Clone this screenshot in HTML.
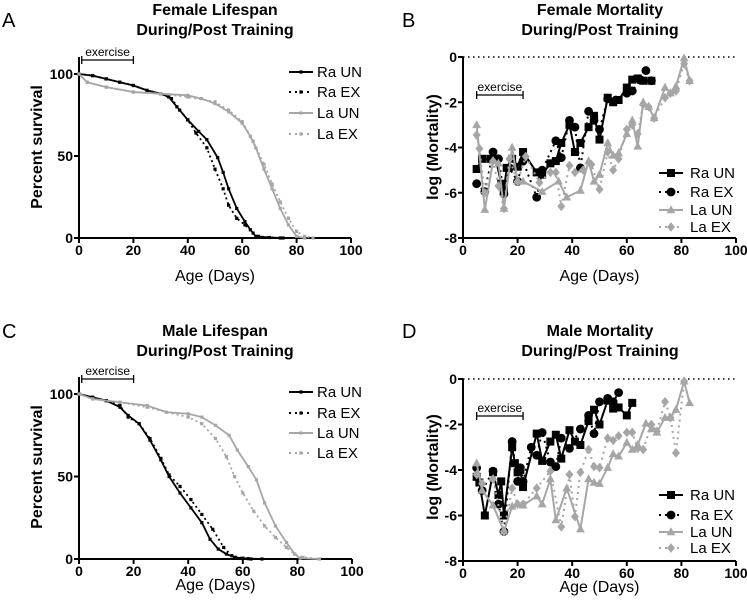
<!DOCTYPE html>
<html><head><meta charset="utf-8"><style>
html,body{margin:0;padding:0;background:#fff}
svg{display:block;font-family:"Liberation Sans",Arial,sans-serif}
</style></head><body>
<svg id="fig" width="747" height="604" viewBox="0 0 747 604" xmlns="http://www.w3.org/2000/svg"></svg>
<script>
// ---------- DATA ----------
const seriesNames = ["Ra UN","Ra EX","La UN","La EX"];
const survTicksX = [0,20,40,60,80,100];
const survTicksY = [0,50,100];
const mortTicksY = [0,-2,-4,-6,-8];
// Female survival
const fRaUN = [[0,100],[5,99],[10,97],[15,95],[20,93],[25,90],[30,88],[33,86],[36,80],[40,72],[44,65],[47,60],[51,49],[53,40],[55,30],[58,18],[61,10],[63,5],[65,1],[70,0.3],[75,0]];
const fRaEX = [[0,100],[5,99],[10,97],[15,95],[20,93],[25,90],[30,88],[34,85],[37,78],[40,72],[43,64],[47,55],[50,42],[53,30],[55,20],[58,12],[61,8],[64,3],[66,1],[74,0]];
const fLaUN = [[0,100],[3,95],[10,92],[20,89],[30,88],[40,87],[45,85],[50,82],[55,77],[60,70],[63,62],[65,55],[68,42],[71,30],[74,18],[77,8],[80,1],[83,0]];
const fLaEX = [[0,100],[3,95],[10,92],[20,89],[30,88],[40,86],[50,83],[55,78],[60,71],[64,59],[68,45],[71,33],[74,22],[77,12],[80,4],[83,1],[86,0]];
// Male survival
const mRaUN = [[0,100],[5,98],[10,96],[15,92],[18,87],[22,82],[26,72],[30,60],[33,50],[37,40],[41,31],[45,22],[48,12],[51,6],[54,3],[57,1],[62,0.2],[67,0]];
const mRaEX = [[0,100],[5,98],[10,96],[15,93],[18,86],[22,82],[26,73],[30,61],[33,51],[37,44],[41,36],[45,27],[49,18],[53,7],[56,2],[60,0.5],[63,0]];
const mLaUN = [[0,100],[5,97],[15,95],[25,93],[32,89],[40,88],[45,86],[50,81],[55,75],[58,66],[62,56],[65,48],[68,34],[72,20],[76,10],[79,3],[81,0.5],[88,0]];
const mLaEX = [[0,100],[5,97],[15,95],[25,92],[32,89],[40,86],[45,82],[50,73],[54,62],[57,50],[60,40],[64,29],[68,20],[72,13],[76,7],[79,3],[82,1],[88,0]];
// Female mortality
const fmRaUN = [[5,-4.95],[7,-4.5],[10,-4.5],[12,-4.5],[14,-5.6],[15,-5.9],[16,-4.9],[18,-4.5],[20,-4.85],[22,-4.2],[27,-5.1],[29,-5.2],[32,-4.7],[34,-4.6],[36,-3.8],[39,-3.0],[41,-4.2],[43,-3.8],[46,-3.1],[48,-2.6],[50,-3.65],[53,-1.8],[55,-2.0],[57,-1.9],[60,-1.35],[62,-1.0],[64,-0.95],[66,-1.05],[69,-1.05]];
const fmRaEX = [[5,-5.6],[8,-5.95],[11,-4.2],[13,-4.5],[15,-6.05],[17,-4.9],[20,-5.5],[22,-4.6],[27,-6.2],[29,-5.0],[34,-3.7],[36,-4.45],[39,-2.8],[41,-3.1],[43,-4.9],[46,-2.4],[48,-2.8],[50,-3.2],[53,-1.85],[56,-1.9],[60,-1.6],[62,-1.5],[65,-1.0],[67,-0.6],[69,-1.05]];
const fmLaUN = [[5,-3.0],[8,-6.75],[11,-4.6],[13,-4.7],[15,-6.7],[18,-4.0],[20,-5.5],[22,-5.5],[29,-5.95],[35,-5.5],[38,-6.2],[43,-5.9],[46,-4.6],[48,-5.5],[50,-5.2],[53,-3.8],[55,-4.35],[57,-4.25],[60,-3.4],[62,-2.8],[64,-3.95],[66,-2.0],[68,-2.2],[70,-2.7],[74,-1.35],[76,-1.6],[78,-1.3],[81,-0.05],[83,-1.05]];
const fmLaEX = [[5,-3.45],[6,-4.05],[8,-6.0],[11,-4.6],[13,-5.7],[15,-6.7],[17,-4.5],[20,-5.5],[23,-4.4],[28,-5.55],[32,-5.1],[34,-5.1],[36,-6.6],[39,-4.8],[41,-5.1],[44,-5.0],[47,-4.75],[50,-5.85],[53,-4.2],[55,-5.0],[57,-4.5],[60,-3.2],[62,-3.0],[64,-3.4],[66,-2.1],[68,-2.2],[70,-2.7],[74,-1.8],[76,-1.6],[78,-1.5],[81,-0.3],[83,-1.05]];
// Male mortality
const mmRaUN = [[5,-4.3],[6,-4.55],[8,-6.0],[11,-4.1],[13,-5.1],[14,-4.5],[15,-6.0],[18,-3.0],[19,-3.7],[20,-4.1],[21,-4.0],[22,-4.75],[27,-2.4],[29,-3.6],[32,-2.75],[34,-2.45],[36,-3.5],[39,-2.25],[41,-2.75],[43,-2.9],[46,-1.85],[48,-1.35],[50,-2.0],[53,-0.95],[55,-1.3],[57,-1.25],[60,-1.6],[62,-1.05]];
const mmRaEX = [[5,-3.9],[7,-4.9],[11,-4.05],[13,-5.5],[15,-6.7],[18,-2.75],[20,-4.5],[21,-3.9],[22,-4.5],[25,-3.0],[27,-3.35],[29,-2.35],[32,-3.65],[34,-3.85],[36,-2.6],[39,-3.05],[43,-2.2],[46,-1.6],[48,-2.4],[50,-1.0],[53,-0.85],[55,-1.0],[57,-0.6]];
const mmLaUN = [[5,-3.7],[7,-4.9],[11,-5.55],[15,-6.7],[18,-5.6],[20,-5.5],[22,-5.55],[27,-5.15],[29,-5.5],[32,-4.4],[34,-6.2],[38,-4.8],[43,-6.6],[46,-4.4],[48,-4.55],[50,-4.6],[53,-3.9],[55,-3.3],[57,-3.4],[60,-2.8],[62,-3.1],[64,-2.9],[67,-1.95],[69,-2.2],[71,-2.35],[74,-1.7],[76,-1.7],[78,-1.35],[81,-0.1],[83,-1.05]];
const mmLaEX = [[5,-4.2],[7,-4.6],[11,-4.4],[15,-6.7],[18,-4.8],[20,-5.5],[22,-5.5],[27,-4.8],[32,-4.05],[36,-6.5],[39,-4.2],[41,-6.05],[43,-4.1],[46,-3.1],[48,-3.85],[50,-3.9],[53,-2.6],[55,-2.7],[57,-2.5],[60,-2.35],[62,-2.35],[64,-3.05],[66,-3.1],[69,-2.0],[71,-2.3],[74,-1.0],[76,-1.7],[78,-3.25],[81,-0.1]];
const exerciseDays = [1,20];
const exerciseDaysMort = [5,22];

// ---------- DRAW ----------
const NS="http://www.w3.org/2000/svg";
const svg=document.getElementById('fig');
function el(tag,attrs,parent,txt){const e=document.createElementNS(NS,tag);for(const k in attrs)e.setAttribute(k,attrs[k]);if(txt!==undefined)e.textContent=txt;(parent||svg).appendChild(e);return e;}
const BLACK="#000", GREY="#a6a6a6";
const styles=[{c:BLACK,dash:null,m:"square"},{c:BLACK,dash:"2,4",m:"circle"},{c:GREY,dash:null,m:"triangle"},{c:GREY,dash:"2,4",m:"diamond"}];

function marker(g,type,x,y,s,c){
  let e;
  if(type==="square"){e=el('rect',{x:x-s,y:y-s,width:2*s,height:2*s,fill:c},g);}
  else if(type==="circle"){e=el('circle',{cx:x,cy:y,r:s*1.1,fill:c},g);}
  else if(type==="triangle"){e=el('polygon',{points:`${x},${y-s*1.2} ${x-s*1.1},${y+s*0.8} ${x+s*1.1},${y+s*0.8}`,fill:c},g);}
  else {e=el('polygon',{points:`${x},${y-s*1.2} ${x+s},${y} ${x},${y+s*1.2} ${x-s},${y}`,fill:c},g);}
  
  
}

function panel(o){
  const g=el('g',{},svg);
  
  
  const sx=v=>o.x0+(v-0)/100*(o.x1-o.x0);
  const sy=v=>o.yb+(v-o.ymin)/(o.ymax-o.ymin)*(o.yt-o.yb);
  const L=el('text',{x:o.lx,y:o.ly,'font-size':20,fill:'#000'},g,o.letter);
  
  o.title.forEach((t,i)=>{const T=el('text',{x:o.tx,y:o.ty+i*20,'font-size':16,'font-weight':'bold','text-anchor':'middle'},g,t);
    });
  if(o.mort){const z=el('line',{x1:sx(0),x2:sx(100),y1:sy(0),y2:sy(0),stroke:'#000','stroke-width':1.5,'stroke-dasharray':'1.5,3.5'},g);
    }
  const xa=el('line',{x1:o.x0,x2:o.x1,y1:o.yb,y2:o.yb,stroke:'#000','stroke-width':2},g);
  
  const ya=el('line',{x1:o.x0,x2:o.x0,y1:o.yb,y2:o.yaxTop,stroke:'#000','stroke-width':2},g);
  
  survTicksX.forEach(v=>{el('line',{x1:sx(v),x2:sx(v),y1:o.yb,y2:o.yb+5,stroke:'#000','stroke-width':2},g);
    const t=el('text',{x:sx(v),y:o.yb+17,'font-size':14,'font-weight':'bold','text-anchor':'middle'},g,String(v));
    });
  o.yticks.forEach(v=>{el('line',{x1:o.x0-5,x2:o.x0,y1:sy(v),y2:sy(v),stroke:'#000','stroke-width':2},g);
    const t=el('text',{x:o.x0-6,y:sy(v)+5,'font-size':14,'font-weight':'bold','text-anchor':'end'},g,String(v));
    });
  const xt=el('text',{x:(o.x0+o.x1)/2,y:o.xlabY,'font-size':16,'text-anchor':'middle'},g,'Age (Days)');
  
  const yt=el('text',{x:0,y:0,'font-size':16,'font-weight':'bold','text-anchor':'middle',transform:`translate(${o.ylabX},${o.ylabY}) rotate(-90)`},g,o.ylab);
  
  const eg=el('g',{},g);
  const ex=o.mort?exerciseDaysMort:exerciseDays;
  const bx1=sx(ex[0]),bx2=sx(ex[1]);
  el('line',{x1:bx1,x2:bx2,y1:o.by,y2:o.by,stroke:'#000','stroke-width':1.3},eg);
  el('line',{x1:bx1,x2:bx1,y1:o.by-4,y2:o.by+4,stroke:'#000','stroke-width':1.3},eg);
  el('line',{x1:bx2,x2:bx2,y1:o.by-4,y2:o.by+4,stroke:'#000','stroke-width':1.3},eg);
  el('text',{x:(bx1+bx2)/2,y:o.by-4,'font-size':12,'text-anchor':'middle'},eg,'exercise');
  o.series.forEach((d,i)=>{
    const st=styles[i];
    const sg=el('g',{},g);
    const pts=d.map(p=>sx(p[0])+','+sy(p[1])).join(' ');
    const pl=el('polyline',{points:pts,fill:'none',stroke:st.c,'stroke-width':o.mort?2:1.8,'stroke-linejoin':'round'},sg);
    if(st.dash)pl.setAttribute('stroke-dasharray',o.mort?'2,4':'2,3');
    d.forEach(p=>marker(sg,o.mort?st.m:'square',sx(p[0]),sy(p[1]),o.mort?4:1.6,st.c));
  });
  const lg=el('g',{},g);
  seriesNames.forEach((n,i)=>{
    const st=styles[i];const y=o.legY[i];
    const eg2=el('g',{},lg);
    const ln=el('line',{x1:o.legX,x2:o.legX+24,y1:y,y2:y,stroke:st.c,'stroke-width':2},eg2);
    if(st.dash)ln.setAttribute('stroke-dasharray','2,4');
    marker(eg2,o.mort?st.m:'square',o.legX+12,y,o.mort?4:1.6,st.c);
    el('text',{x:o.legX+(o.mort?31:28),y:y+5,'font-size':15},eg2,n);
  });
}

panel({name:'panel-a-female-lifespan',letter:'A',lx:2,ly:27,title:['Female Lifespan','During/Post Training'],tx:215,ty:15,
  x0:79,x1:351,yb:238,yt:74,ymin:0,ymax:100,yaxTop:57,yticks:survTicksY,mort:false,
  xlabY:281,ylab:'Percent survival',ylabX:42,ylabY:147,by:60,legX:289,legY:[72,92,113,134],series:[fRaUN,fRaEX,fLaUN,fLaEX]});
panel({name:'panel-b-female-mortality',letter:'B',lx:402,ly:27,title:['Female Mortality','During/Post Training'],tx:600,ty:15,
  x0:463,x1:736,yb:238,yt:57,ymin:-8,ymax:0,yaxTop:57,yticks:mortTicksY,mort:true,
  xlabY:281,ylab:'log (Mortality)',ylabX:438,ylabY:147,by:95,legX:659,legY:[173,192,210,227],series:[fmRaUN,fmRaEX,fmLaUN,fmLaEX]});
panel({name:'panel-c-male-lifespan',letter:'C',lx:2,ly:338,title:['Male Lifespan','During/Post Training'],tx:215,ty:336,
  x0:79,x1:352,yb:559,yt:394,ymin:0,ymax:100,yaxTop:377,yticks:survTicksY,mort:false,
  xlabY:590,ylab:'Percent survival',ylabX:42,ylabY:467,by:379,legX:289,legY:[392,413,433,453],series:[mRaUN,mRaEX,mLaUN,mLaEX]});
panel({name:'panel-d-male-mortality',letter:'D',lx:402,ly:338,title:['Male Mortality','During/Post Training'],tx:600,ty:336,
  x0:463,x1:736,yb:561,yt:379,ymin:-8,ymax:0,yaxTop:379,yticks:mortTicksY,mort:true,
  xlabY:592,ylab:'log (Mortality)',ylabX:438,ylabY:467,by:416,legX:659,legY:[495,515,532,548],series:[mmRaUN,mmRaEX,mmLaUN,mmLaEX]});
</script>
</body></html>
